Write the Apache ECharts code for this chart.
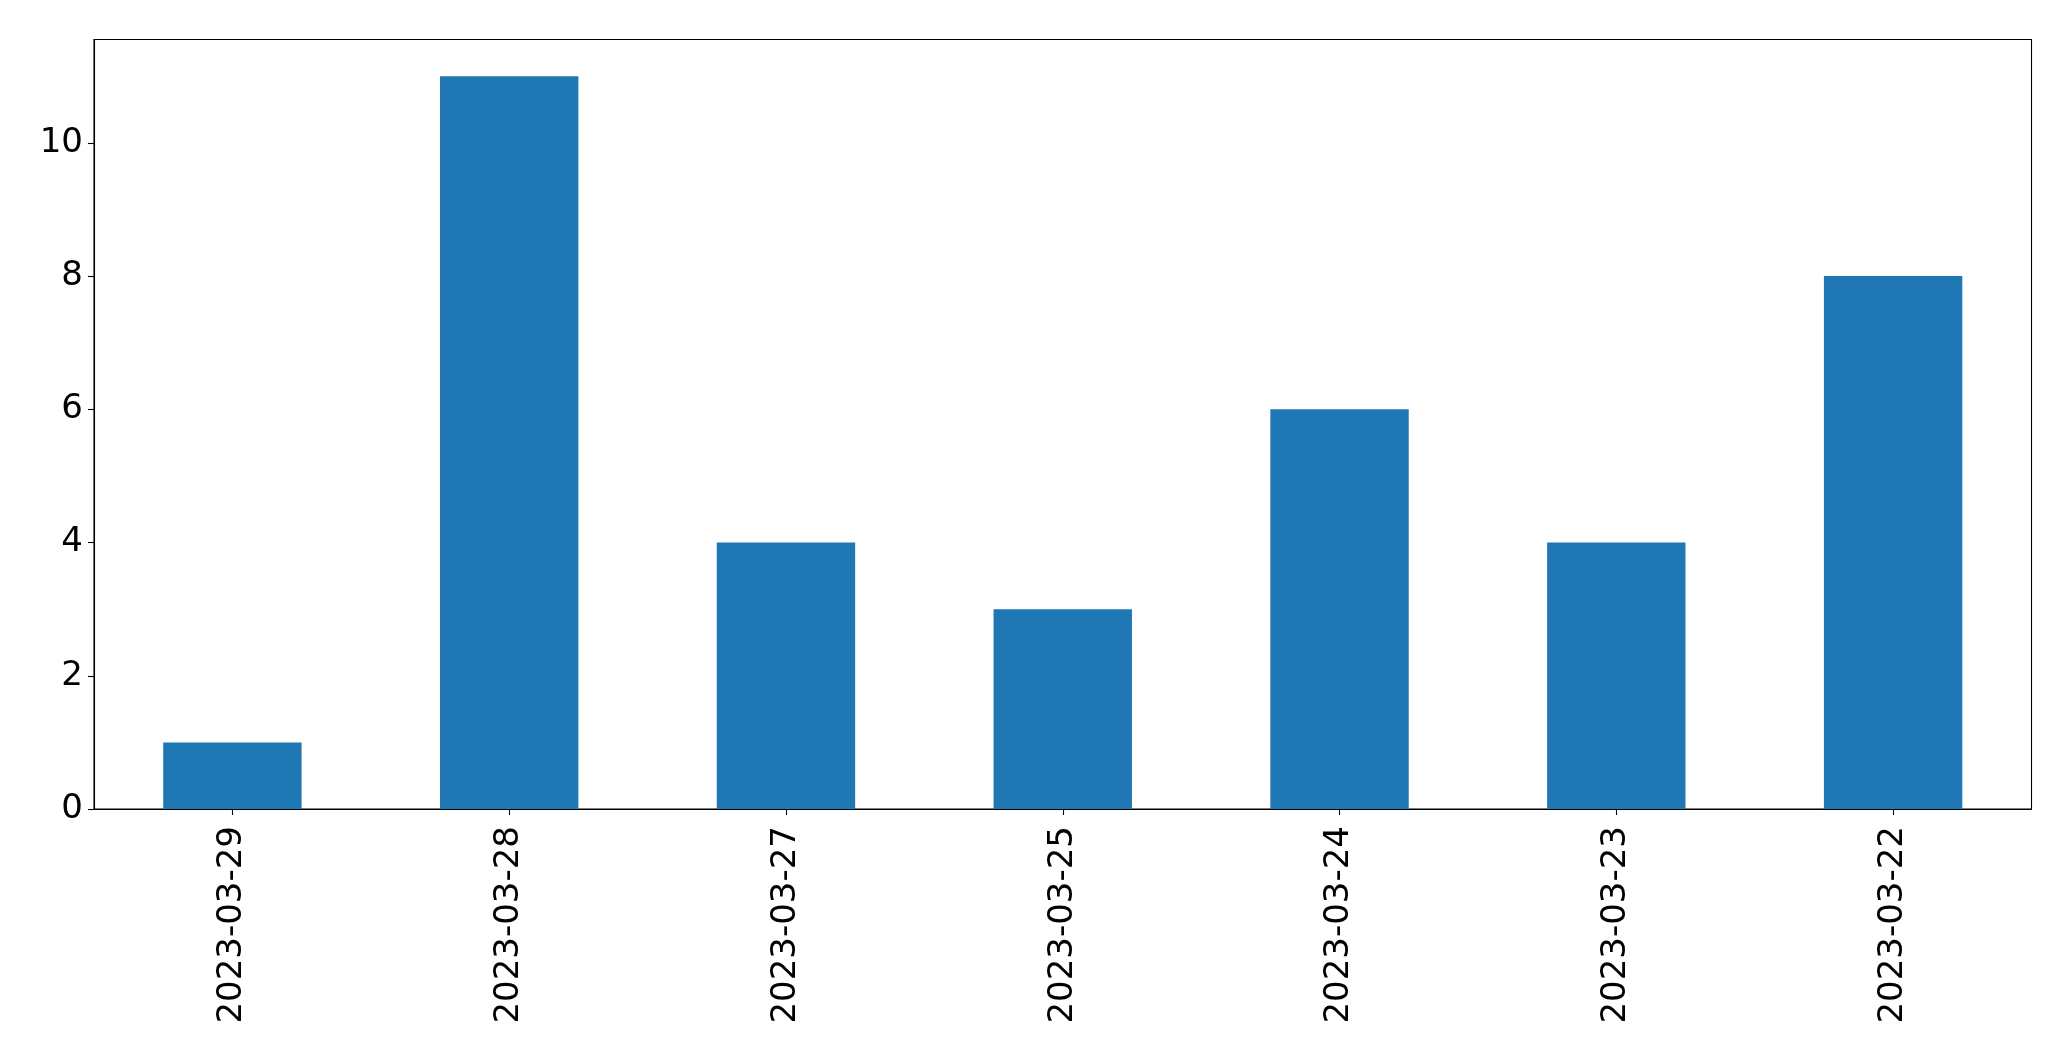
<!DOCTYPE html>
<html>
<head>
<meta charset="utf-8">
<script src="https://cdn.jsdelivr.net/npm/echarts@6/dist/echarts.min.js"></script>
<style>
html,body{margin:0;padding:0;background:#fff;}
#chart{width:2071px;height:1061px;}
</style>
</head>
<body>
<div id="chart"></div>
<script>
const categories = ['2023-03-29','2023-03-28','2023-03-27','2023-03-25','2023-03-24','2023-03-23','2023-03-22'];
const values = [1, 11, 4, 3, 6, 4, 8];
const yTicks = [0, 2, 4, 6, 8, 10];

const chart = echarts.init(document.getElementById('chart'), null, {renderer: 'canvas'});
const font = 'DejaVu Sans';
chart.setOption({
  animation: false,
  backgroundColor: '#ffffff',
  grid: {
    left: 94, right: 39.5, top: 39.5, bottom: 252,
    show: true, borderColor: '#000', borderWidth: 1.1, backgroundColor: 'transparent'
  },
  xAxis: {
    type: 'category',
    data: categories,
    boundaryGap: true,
    axisLine: {show: true, lineStyle: {color: '#000', width: 1.1}},
    axisTick: {show: true, alignWithLabel: true, length: 6, lineStyle: {color: '#000', width: 1.1}},
    axisLabel: {rotate: 90, margin: 17, color: '#000', fontSize: 34, fontFamily: font, interval: 0},
    splitLine: {show: false}
  },
  yAxis: {
    type: 'value',
    min: 0, max: 11.55, interval: 2,
    axisLine: {show: true, lineStyle: {color: '#000', width: 1.1}},
    axisTick: {show: true, length: 6, lineStyle: {color: '#000', width: 1.1}},
    axisLabel: {
      color: '#000', fontSize: 34, fontFamily: font, margin: 11,
      showMaxLabel: false,
      formatter: function (v) { return yTicks.indexOf(v) >= 0 ? String(v) : ''; }
    },
    splitLine: {show: false}
  },
  series: [{
    type: 'bar',
    data: values,
    barWidth: '50%',
    itemStyle: {color: '#1f77b4'}
  }]
});
</script>
</body>
</html>
